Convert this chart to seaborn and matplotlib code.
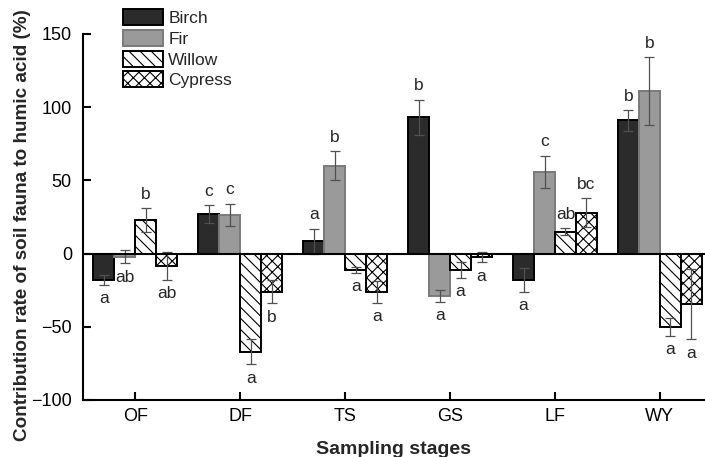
import numpy as np
import pandas as pd
import matplotlib
matplotlib.use("Agg")
import matplotlib.pyplot as plt
import seaborn as sns

# Sampling stages and tree species
stages = ["OF", "DF", "TS", "GS", "LF", "WY"]
species = ["Birch", "Fir", "Willow", "Cypress"]

# Mean contribution rate (%) per species across stages
birch = [-18, 27, 8.5, 93, -18, 91]
fir = [-2, 26.5, 60, -29, 56, 111]
willow = [23, -67, -11, -11, 15, -50]
cypress = [-8.5, -26, -26, -2.5, 28, -34.5]

# Standard errors
birch_err = [3.5, 6, 8.5, 12, 8, 7]
fir_err = [4.5, 7.5, 10, 4, 11, 23]
willow_err = [8, 8.5, 2, 5.5, 2.5, 6]
cypress_err = [9.5, 8, 7.5, 3.5, 10, 24]

# Significance letters
birch_sig = ["a", "c", "a", "b", "a", "b"]
fir_sig = ["ab", "c", "b", "a", "c", "b"]
willow_sig = ["b", "a", "a", "a", "ab", "a"]
cypress_sig = ["ab", "b", "a", "a", "bc", "a"]

values = [birch, fir, willow, cypress]
errors = [birch_err, fir_err, willow_err, cypress_err]
letters = [birch_sig, fir_sig, willow_sig, cypress_sig]

df = pd.DataFrame({
    "stage": np.tile(stages, len(species)),
    "species": np.repeat(species, len(stages)),
    "rate": np.concatenate(values),
})

sns.set_theme(style="ticks")
plt.rcParams["font.family"] = ["Liberation Sans", "DejaVu Sans"]
plt.rcParams["hatch.linewidth"] = 0.8
plt.rcParams["hatch.color"] = "black"

fig = plt.figure(figsize=(7.05, 4.57), dpi=100)
ax = fig.add_axes([83 / 705, 1 - 400 / 457, 622 / 705, 366 / 457])

palette = {"Birch": "#2b2b2b", "Fir": "#9a9a9a", "Willow": "white", "Cypress": "white"}
sns.barplot(data=df, x="stage", y="rate", hue="species", order=stages,
            hue_order=species, palette=palette, errorbar=None, width=0.8,
            saturation=1, legend=False, ax=ax, zorder=2)

edgecolors = ["black", "#7a7a7a", "black", "black"]
hatches = [None, None, "\\\\\\", "xxx"]
bar_containers = list(ax.containers)
for cont, ec, h in zip(bar_containers, edgecolors, hatches):
    for bar in cont:
        bar.set_edgecolor(ec)
        bar.set_linewidth(1.4)
        if h:
            bar.set_hatch(h)

# Error bars and letters placed on each bar
for cont, vals, errs, sigs in zip(bar_containers, values, errors, letters):
    xs = [b.get_x() + b.get_width() / 2 for b in cont]
    ax.errorbar(xs, vals, yerr=errs, fmt="none", ecolor="#505050",
                elinewidth=0.9, capsize=3.5, capthick=0.9, zorder=3)
    for x, v, e, s in zip(xs, vals, errs, sigs):
        if v >= 0:
            ax.annotate(s, (x, v + e), xytext=(0, 10), textcoords="offset points",
                        ha="center", va="center", fontsize=12.5)
        else:
            ax.annotate(s, (x, v - e), xytext=(0, -10), textcoords="offset points",
                        ha="center", va="center", fontsize=12.5)

ax.axhline(0, color="black", lw=1.5, zorder=4)
ax.set_xlim(-0.5, 5.43)
ax.set_ylim(-100, 150)
ax.set_yticks([-100, -50, 0, 50, 100, 150])
sns.despine(ax=ax)
for sp in ["left", "bottom"]:
    ax.spines[sp].set_linewidth(1.5)
    ax.spines[sp].set_color("black")
ax.tick_params(axis="both", direction="in", length=6, width=1.5, labelsize=13,
               colors="black")
ax.tick_params(axis="y", pad=8)
ax.tick_params(axis="x", pad=6)

ax.set_xlabel("Sampling stages", fontsize=14, fontweight="bold", labelpad=11)
ax.set_ylabel("Contribution rate of soil fauna to humic acid (%)", fontsize=13.6,
              fontweight="bold", va="center")
ax.yaxis.set_label_coords(-0.098, 0.478)

handles = [cont.patches[0] for cont in bar_containers]
fig.legend(handles, species, loc="upper left", bbox_to_anchor=(123 / 705, 1 - 9 / 457),
           frameon=False, fontsize=12.5, handlelength=2.3, handleheight=1.05,
           labelspacing=0.22, handletextpad=0.3, borderpad=0, borderaxespad=0)

fig.savefig("out.png", dpi=100)
